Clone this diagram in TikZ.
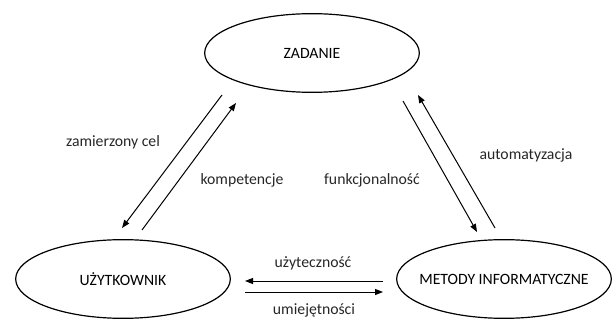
\documentclass[tikz,border=0pt]{standalone}
\usepackage{fontspec}
\setmainfont{Carlito}
\usetikzlibrary{arrows.meta,shapes.geometric}

\begin{document}
\begin{tikzpicture}[x=0.75pt, y=-0.75pt,
  oval/.style={draw, ellipse, line width=0.9pt, minimum width=161pt,
               minimum height=59pt, inner sep=0pt, font=\fontsize{11.8}{13}\selectfont},
  arr/.style={-{Triangle[length=6pt,width=4.5pt]}, line width=0.75pt},
  lbl/.style={font=\fontsize{11.8}{13}\selectfont, text=black!85}]
\useasboundingbox (0,0) rectangle (613,320);
\node[oval] (zad) at (312,53) {ZADANIE};
\node[oval] (uzy) at (123,279) {UŻYTKOWNIK};
\node[oval, inner xsep=-14pt] (met) at (504,279) {METODY INFORMATYCZNE};
% ends of the arrows
\coordinate (zu1) at (222,95);  \coordinate (zu2) at (122,228);
\coordinate (uz1) at (142,230); \coordinate (uz2) at (236,103);
\coordinate (zm1) at (403,101); \coordinate (zm2) at (477,232);
\coordinate (mz1) at (495,228); \coordinate (mz2) at (418,95);
\coordinate (mu1) at (383,281); \coordinate (mu2) at (245,281);
\coordinate (um1) at (245,292); \coordinate (um2) at (383,292);
\foreach \a/\b in {zu1/zu2,uz1/uz2,zm1/zm2,mz1/mz2,mu1/mu2,um1/um2}
  \draw[arr] (\a)--(\b);
\node[lbl] (cel) at (113,142) {zamierzony cel};
\node[lbl] (kom) at (242,180) {kompetencje};
\node[lbl] (fun) at (372,180) {funkcjonalność};
\node[lbl] (aut) at (526,155) {automatyzacja};
\node[lbl] (uzt) at (313,263) {użyteczność};
\node[lbl] (umi) at (314,310) {umiejętności};
\end{tikzpicture}
\end{document}
